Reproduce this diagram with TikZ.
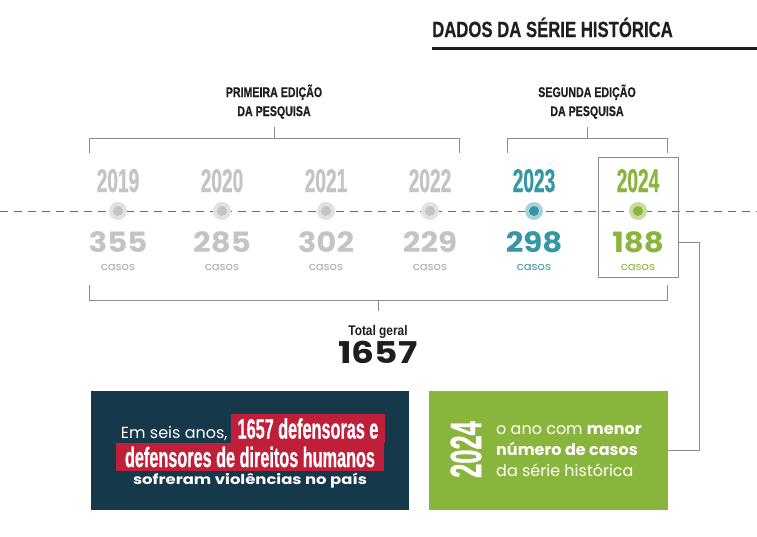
\documentclass[tikz,border=0pt]{standalone}
\usepackage{fontspec}
\setmainfont{Liberation Sans}
\newfontfamily\cond[FakeStretch=0.58,FakeBold=0.6]{Liberation Sans}
\newfontfamily\hdr[FakeStretch=0.76,FakeBold=0.5]{Liberation Sans}
\newfontfamily\tot[FakeStretch=0.85]{Liberation Sans}
\newfontfamily\pop{Poppins}
\newfontfamily\popn[FakeStretch=1.1]{Poppins}
\newfontfamily\popt[FakeStretch=1.2]{Poppins}
\newfontfamily\popp[FakeStretch=1.2,Numbers=Proportional]{Poppins}
\newfontfamily\popc[FakeStretch=1.05]{Poppins}
\usetikzlibrary{calc}
\definecolor{yrgray}{HTML}{C4C4C4}
\definecolor{dotgray}{HTML}{E2E2E2}
\definecolor{casgray}{HTML}{A8A8A8}
\definecolor{teal}{HTML}{3596A6}
\definecolor{teallt}{HTML}{A9D2DA}
\definecolor{grn}{HTML}{8AB53C}
\definecolor{grnlt}{HTML}{C6DDA2}
\definecolor{navy}{HTML}{15384A}
\definecolor{hired}{HTML}{C01F3A}
\definecolor{linegray}{HTML}{8C8C8C}
\definecolor{dashc}{HTML}{5E707C}
\definecolor{ink}{HTML}{1E1E1E}
\tikzset{
  yearlbl/.style={anchor=base, inner sep=0pt, font=\cond\bfseries\fontsize{33}{33}\selectfont},
  numlbl/.style={anchor=base, inner sep=0pt, font=\popn\bfseries\fontsize{28}{28}\selectfont},
  caslbl/.style={anchor=base, inner sep=0pt, font=\popc\fontsize{11}{11}\selectfont},
  hdrlbl/.style={anchor=base, inner sep=0pt, align=center, text=ink, font=\hdr\bfseries\fontsize{14}{19}\selectfont},
  brk/.style={draw=linegray, line width=1pt},
  hl/.style={fill=hired, text=white, inner sep=0pt, font=\cond\bfseries\fontsize{28}{28}\selectfont},
}
\begin{document}
\begin{tikzpicture}[x=1pt,y=-1pt]
\useasboundingbox (0,0) rectangle (757,536);
\fill[white] (0,0) rectangle (757,536);
% title
\node[anchor=base west, inner sep=0pt, text=ink, font=\hdr\bfseries\fontsize{22}{22}\selectfont] (title) at (432,37) {DADOS DA SÉRIE HISTÓRICA};
\draw[ink, line width=3pt] (432,48) -- (757,48);
% headers (base = last line)
\node[hdrlbl] (h1) at (274,116) {PRIMEIRA EDIÇÃO\\DA PESQUISA};
\node[hdrlbl] (h2) at (587,116) {SEGUNDA EDIÇÃO\\DA PESQUISA};
% brackets
\draw[brk] (274,127) -- (274,138);
\draw[brk] (89,153) -- (89,138) -- (459,138) -- (459,153);
\draw[brk] (587,127) -- (587,138);
\draw[brk] (507,153) -- (507,138) -- (667,138) -- (667,153);
% timeline
\draw[dashc, line width=1pt, dash pattern=on 8pt off 6pt] (0,211) -- (757,211);
% 2024 box
\node[draw=linegray, line width=0.8pt, minimum width=80pt, minimum height=120pt, inner sep=0pt] (box24) at (638,217) {};
% years
\foreach \x/\yr/\n/\c/\cl/\cc in {118/2019/355/yrgray/dotgray/casgray, 222/2020/285/yrgray/dotgray/casgray, 326/2021/302/yrgray/dotgray/casgray, 430/2022/229/yrgray/dotgray/casgray, 534/2023/298/teal/teallt/teal, 638/2024/188/grn/grnlt/grn}{
  \node[yearlbl, text=\c] (y\yr) at (\x,192) {\yr};
  \fill[\cl] (\x,211) circle (9pt);
  \fill[\c] (\x,211) circle (5pt);
  \node[numlbl, text=\c] (n\yr) at (\x,252) {\n};
  \node[caslbl, text=\cc] (c\yr) at (\x,270) {casos};
}
% bottom bracket
\draw[brk] (89,285) -- (89,300) -- (667,300) -- (667,285);
\draw[brk] (378,300) -- (378,311);
\node[anchor=base, inner sep=0pt, text=ink, font=\tot\bfseries\fontsize{14}{14}\selectfont] (totl) at (378,335) {Total geral};
\node[anchor=base, inner sep=0pt, text=ink, font=\popp\bfseries\fontsize{30}{30}\selectfont] (totn) at (378,363) {1657};
% dark box
\node[fill=navy, minimum width=318pt, minimum height=119pt, inner sep=0pt] (dark) at (250,450.5) {};
\node[hl, minimum width=154pt, minimum height=29pt] (hl1) at (308,428.5) {1657 defensoras e};
\node[hl, minimum width=268pt, minimum height=28pt] (hl2) at (250,457) {defensores de direitos humanos};
\node[anchor=base east, inner sep=0pt, text=white, font=\pop\fontsize{16}{16}\selectfont] (em) at ([xshift=-3pt]hl1.base west) {Em seis anos,};
\node[anchor=base, inner sep=0pt, text=white, font=\popt\bfseries\fontsize{13.7}{13.7}\selectfont] (sof) at (250,484) {sofreram violências no país};
% green box
\node[fill=grn, minimum width=239pt, minimum height=119pt, inner sep=0pt] (green) at (548.5,450.5) {};
\node[rotate=90, inner sep=0pt, text=white, font=\cond\bfseries\fontsize{44}{44}\selectfont] (g24) at (466,449.5) {2024};
\node[anchor=base west, inner sep=0pt, align=left, text=white, font=\pop\fontsize{16}{21}\selectfont] (gtxt) at (496,476) {o ano com \textbf{menor}\\\textbf{número de casos}\\da série histórica};
% connector
\coordinate (elbow) at (699,242);
\draw[linegray, line width=1pt] ([yshift=-25pt]box24.east) -- (elbow) |- (green.east);
\end{tikzpicture}
\end{document}
